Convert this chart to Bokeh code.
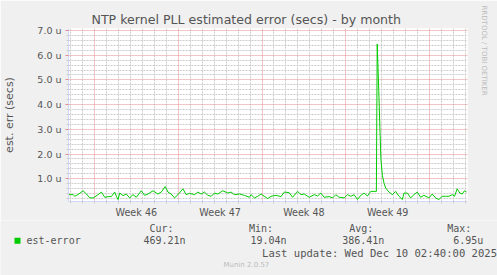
from bokeh.plotting import figure
from bokeh.layouts import column, row
from bokeh.models import (FixedTicker, Grid, Label, Title, BoxAnnotation, Range1d)
from bokeh.embed import file_html
from bokeh.resources import INLINE

# ---------------- data ----------------
t_days = [0.00, 0.39, 0.53, 0.86, 1.22, 1.50, 1.78, 2.06, 2.47, 2.75, 3.03, 3.31, 3.58, 3.86,
          4.00, 4.14, 4.28, 4.56, 4.83, 5.11, 5.39, 5.67, 6.08, 6.36, 6.64, 7.06, 7.47, 7.75,
          8.08, 8.31, 8.58, 8.86, 9.14, 9.56, 9.83, 10.11, 10.53, 10.81, 11.08, 11.36, 11.64,
          11.92, 12.19, 12.47, 12.89, 13.31, 13.58, 13.86, 14.28, 14.69, 15.11, 15.25, 15.53,
          15.81, 16.08, 16.36, 16.64, 16.92, 17.33, 17.75, 18.03, 18.44, 18.72, 19.14, 19.42,
          19.69, 20.11, 20.53, 20.81, 21.08, 21.36, 21.78, 22.06, 22.33, 22.61, 23.03, 23.31,
          23.58, 23.86, 24.14, 24.42, 24.69, 24.97, 25.25, 25.53, 25.72, 25.79, 25.92, 26.02,
          26.10, 26.22, 26.36, 26.50, 26.78, 27.06, 27.33, 27.61, 27.89, 28.03, 28.31, 28.58,
          28.86, 29.14, 29.42, 29.69, 30.11, 30.39, 30.67, 30.94, 31.22, 31.50, 31.78, 32.06,
          32.25, 32.47, 32.69, 32.89, 33.08, 33.25]
est_error_us = [0.357, 0.357, 0.291, 0.383, 0.514, 0.383, 0.225, 0.225, 0.357, 0.462, 0.251,
                0.278, 0.278, 0.462, 0.291, 0.159, 0.422, 0.317, 0.383, 0.225, 0.357, 0.251,
                0.514, 0.330, 0.383, 0.514, 0.383, 0.462, 0.686, 0.462, 0.383, 0.225, 0.357,
                0.593, 0.357, 0.409, 0.357, 0.462, 0.383, 0.462, 0.330, 0.291, 0.422, 0.383,
                0.514, 0.422, 0.462, 0.357, 0.383, 0.330, 0.251, 0.357, 0.225, 0.291, 0.383,
                0.291, 0.199, 0.291, 0.330, 0.278, 0.462, 0.436, 0.251, 0.488, 0.357, 0.383,
                0.251, 0.357, 0.304, 0.422, 0.251, 0.278, 0.225, 0.357, 0.251, 0.225, 0.357,
                0.291, 0.357, 0.159, 0.330, 0.422, 0.304, 0.488, 0.490, 0.490, 6.45, 4.57,
                2.99, 1.80, 1.14, 0.82, 0.62, 0.46, 0.357, 0.488, 0.291, 0.159, 0.422, 0.422,
                0.225, 0.357, 0.462, 0.251, 0.330, 0.225, 0.383, 0.225, 0.159, 0.291, 0.291,
                0.291, 0.357, 0.291, 0.593, 0.422, 0.383, 0.514, 0.462]

y_ticks_us = [1, 2, 3, 4, 5, 6, 7]
y_tick_labels = ["1.0 u", "2.0 u", "3.0 u", "4.0 u", "5.0 u", "6.0 u", "7.0 u"]
week_bounds_days = [2.1667, 9.1667, 16.1667, 23.1667, 30.1667]
week_labels = ["Week 46", "Week 47", "Week 48", "Week 49"]

title_text = "NTP kernel PLL estimated error (secs) - by month"
ylabel_text = "est. err (secs)"
series_name = "est-error"
stat_names = ["Cur:", "Min:", "Avg:", "Max:"]
stat_values = ["469.21n", "19.04n", "386.41n", "6.95u"]
last_update = "Last update: Wed Dec 10 02:40:00 2025"
munin_version = "Munin 2.0.57"
watermark = "RRDTOOL / TOBI OETIKER"

# ---------------- layout ----------------
W = 497
H_MAIN, H_LEG = 220, 55
FL, FT, FW, FH = 67, 28, 400, 175
X0, X1 = 0.0, 400 / 12
Y0, Y1 = 0.08, 7.08

BG = "#F0F0F0"
FONT_C = "#555555"
AXIS_C = "#CFD6F8"
GREEN = "#00CC00"
MINOR_C = "#CCCCCC"
MAJOR_C = "#E08C8C"

p = figure(width=W, height=H_MAIN, x_range=Range1d(X0, X1), y_range=Range1d(Y0, Y1),
           output_backend="svg", toolbar_location=None, title=None,
           min_border_left=FL, min_border_right=W - FL - FW,
           min_border_top=FT, min_border_bottom=H_MAIN - FT - FH)
p.background_fill_color = "#FFFFFF"
p.border_fill_color = BG
p.outline_line_color = None
p.xgrid.visible = False
p.ygrid.visible = False

day_lines = [week_bounds_days[0] + k for k in range(-3, 40)
             if X0 < week_bounds_days[0] + k < X1 and k % 7 != 0]
y_minor = [round(0.2 * i, 2) for i in range(1, 36) if i % 5 != 0]
week_mids = [(week_bounds_days[i] + week_bounds_days[i + 1]) / 2 for i in range(len(week_labels))]

# grids (minor first, major on top)
p.add_layout(Grid(dimension=0, ticker=FixedTicker(ticks=day_lines),
                  grid_line_color=MINOR_C, grid_line_dash="2 1", grid_line_width=1))
p.add_layout(Grid(dimension=1, ticker=FixedTicker(ticks=y_minor),
                  grid_line_color=MINOR_C, grid_line_dash="2 1", grid_line_width=1))
p.add_layout(Grid(dimension=0, ticker=FixedTicker(ticks=week_bounds_days),
                  grid_line_color=MAJOR_C, grid_line_dash="1 1", grid_line_width=1))
p.add_layout(Grid(dimension=1, ticker=FixedTicker(ticks=y_ticks_us),
                  grid_line_color=MAJOR_C, grid_line_dash="1 1", grid_line_width=1))

# x axis: week labels centred inside each week, daily minor ticks
p.xaxis.ticker = FixedTicker(ticks=week_mids, minor_ticks=day_lines + week_bounds_days)
p.xaxis.major_label_overrides = dict(zip(week_mids, week_labels))
p.xaxis.major_tick_line_color = None
p.xaxis.major_tick_in = 0
p.xaxis.major_tick_out = 0
p.xaxis.major_label_standoff = 3
p.xaxis.major_label_text_font_size = "9.6px"

# y axis
p.yaxis.ticker = FixedTicker(ticks=y_ticks_us, minor_ticks=y_minor)
p.yaxis.major_label_overrides = dict(zip(y_ticks_us, y_tick_labels))
p.yaxis.major_label_text_font_size = "9.5px"
p.yaxis.major_label_standoff = 4
p.yaxis.major_tick_line_color = MAJOR_C
p.yaxis.major_tick_in = 0
p.yaxis.major_tick_out = 3
p.yaxis.axis_label = ylabel_text
p.yaxis.axis_label_text_font = "DejaVu Sans"
p.yaxis.axis_label_text_font_size = "11px"
p.yaxis.axis_label_text_font_style = "normal"
p.yaxis.axis_label_text_color = FONT_C
p.yaxis.axis_label_standoff = 18

for ax in (p.xaxis, p.yaxis):
    ax.axis_line_color = AXIS_C
    ax.minor_tick_line_color = MINOR_C
    ax.minor_tick_in = 0
    ax.minor_tick_out = 2
    ax.major_label_text_font = "DejaVu Sans"
    ax.major_label_text_color = FONT_C

# title and rrdtool watermark
p.add_layout(Title(text=title_text, align="left", offset=23,
                   text_font="DejaVu Sans", text_font_size="12.6px",
                   text_font_style="normal", text_color=FONT_C, standoff=3), "above")
p.add_layout(Title(text=watermark, align="left", offset=-23, vertical_align="top",
                   text_font="DejaVu Sans", text_font_size="7px",
                   text_font_style="normal", text_color="#BBBBBB", standoff=20), "right")

# data line
p.line(t_days, est_error_us, line_color=GREEN, line_width=1)

# ---------------- legend strip (canvas-pixel coordinates) ----------------
leg = figure(width=W, height=H_LEG, x_range=Range1d(0, W), y_range=Range1d(H_MAIN + H_LEG, H_MAIN),
             output_backend="svg", toolbar_location=None, title=None,
             x_axis_type=None, y_axis_type=None, min_border=0,
             min_border_left=0, min_border_right=0, min_border_top=0, min_border_bottom=0)
leg.background_fill_color = BG
leg.border_fill_color = BG
leg.outline_line_color = None
leg.xgrid.visible = False
leg.ygrid.visible = False

MONO = "DejaVu Sans Mono"


def lab(px, py, text, size, font=MONO, align="left", color=FONT_C):
    leg.add_layout(Label(x=px, y=py, text=text, text_align=align, text_baseline="middle",
                         text_font=font, text_font_size=size, text_color=color))


leg.add_layout(BoxAnnotation(left=14, right=20, top=237.3, bottom=243.3,
                             fill_color=GREEN, fill_alpha=1.0, line_color=None))
lab(26, 240, series_name, "10px")
for name, val, hx, vx in zip(stat_names, stat_values,
                             [149, 248.5, 348.7, 446.7], [143, 250, 341.7, 452.7]):
    lab(hx, 227.5, name, "10px")
    lab(vx, 240, val, "10px")
lab(496.5, 252, last_update, "10.55px", align="right")
lab(223, 264, munin_version, "7px", font="DejaVu Sans", color="#BBBBBB")

layout = column(p, row(leg, spacing=0), spacing=0)
open("out.html", "w").write(file_html(layout, INLINE))
